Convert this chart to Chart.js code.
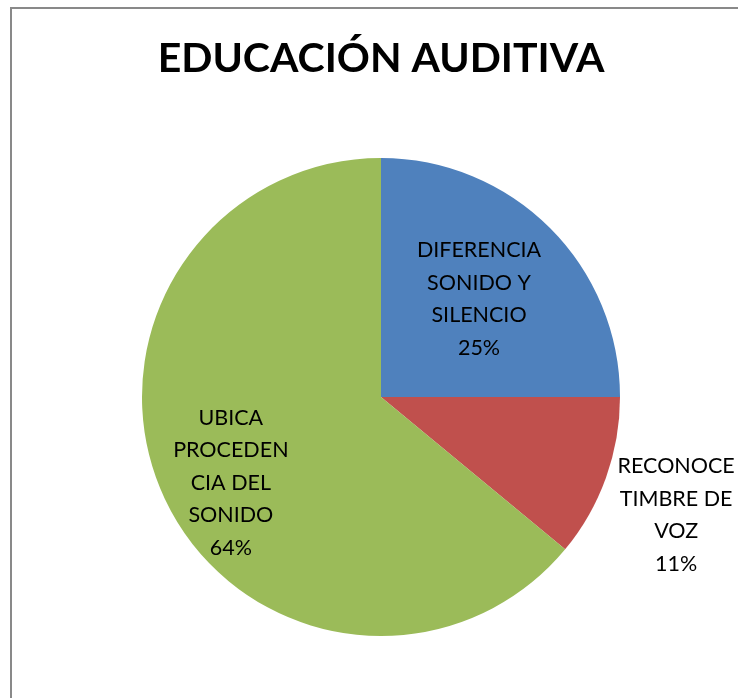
<!DOCTYPE html>
<html>
<head>
<meta charset="utf-8">
<script src="https://cdn.jsdelivr.net/npm/chart.js@4"></script>
<style>
  html, body { margin: 0; padding: 0; background: #fff; }
  #wrap { width: 738px; height: 698px; position: relative; }
</style>
</head>
<body>
<div id="wrap"><canvas id="c" width="738" height="698"></canvas></div>
<script>
// ---- data ----
const title = "EDUCACIÓN AUDITIVA";
const categories = ["DIFERENCIA SONIDO Y SILENCIO", "RECONOCE TIMBRE DE VOZ", "UBICA PROCEDENCIA DEL SONIDO"];
const labelLines = [
  ["DIFERENCIA", "SONIDO Y", "SILENCIO"],
  ["RECONOCE", "TIMBRE DE", "VOZ"],
  ["UBICA", "PROCEDEN", "CIA DEL", "SONIDO"]
];
const values = [25, 11, 64];
const percentLabels = ["25%", "11%", "64%"];

// ---- style / layout ----
const colors = ["#4F81BD", "#C0504D", "#9BBB59"];
const labelPlace = [
  { dist: 0.58, shiftDeg: 0 },
  { dist: 1.33, shiftDeg: 2 },
  { dist: 0.724, shiftDeg: -4.6 }
];
const labelFont = '21.5px "Lato", "Open Sans", sans-serif';
const lineH = 32.5;

const frame = {
  id: 'frame',
  beforeDraw(chart) {
    const ctx = chart.ctx;
    ctx.save();
    ctx.fillStyle = '#fff';
    ctx.fillRect(0, 0, chart.width, chart.height);
    ctx.strokeStyle = '#898989';
    ctx.lineWidth = 2;
    ctx.strokeRect(11, 8, chart.width + 20, chart.height + 20);
    ctx.restore();
  }
};

const sliceLabels = {
  id: 'sliceLabels',
  afterDatasetsDraw(chart) {
    const ctx = chart.ctx;
    const meta = chart.getDatasetMeta(0);
    ctx.save();
    ctx.font = labelFont;
    ctx.fillStyle = '#000';
    ctx.textAlign = 'center';
    ctx.textBaseline = 'middle';
    meta.data.forEach((arc, i) => {
      const p = arc.getProps(['x', 'y', 'startAngle', 'endAngle', 'outerRadius'], true);
      const mid = (p.startAngle + p.endAngle) / 2 + labelPlace[i].shiftDeg * Math.PI / 180;
      const d = labelPlace[i].dist * p.outerRadius;
      const cx = p.x + Math.cos(mid) * d;
      const cy = p.y + Math.sin(mid) * d;
      const lines = labelLines[i].concat([percentLabels[i]]);
      const y0 = cy - (lines.length - 1) * lineH / 2;
      lines.forEach((t, k) => ctx.fillText(t, cx, y0 + k * lineH));
    });
    ctx.restore();
  }
};

new Chart(document.getElementById('c'), {
  type: 'pie',
  data: {
    labels: categories,
    datasets: [{
      data: values,
      backgroundColor: colors,
      borderWidth: 0
    }]
  },
  options: {
    responsive: false,
    animation: false,
    layout: { padding: { left: 24, right: 0, top: 0, bottom: 62 } },
    plugins: {
      legend: { display: false },
      tooltip: { enabled: false },
      title: {
        display: true,
        text: title,
        color: '#000',
        font: { family: '"Lato", "Open Sans", sans-serif', size: 41, weight: 'bold', lineHeight: 1.2 },
        padding: { top: 34, bottom: 74.8 }
      }
    }
  },
  plugins: [frame, sliceLabels]
});
</script>
</body>
</html>
